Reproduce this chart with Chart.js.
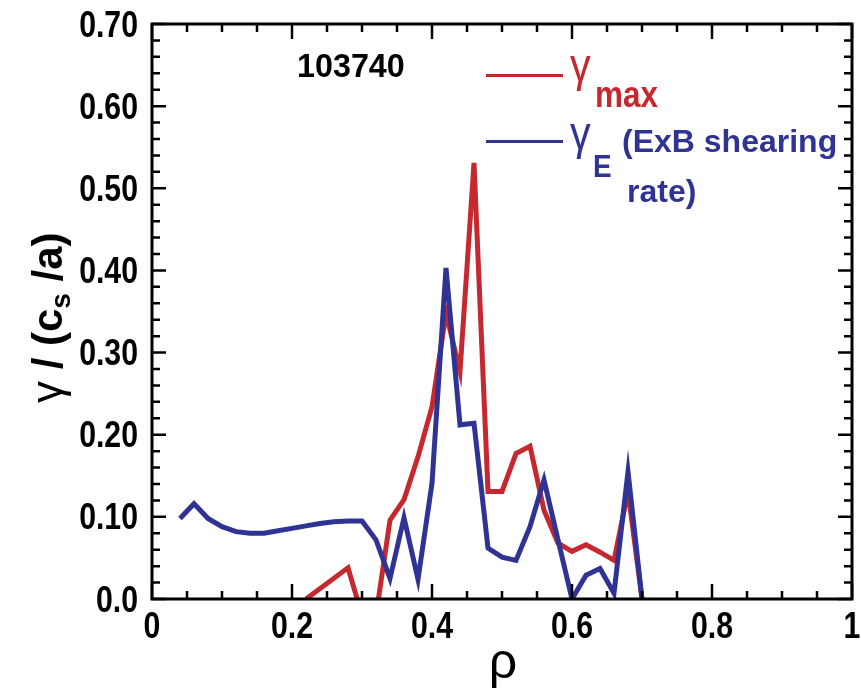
<!DOCTYPE html>
<html>
<head>
<meta charset="utf-8">
<script src="https://cdn.jsdelivr.net/npm/chart.js@4.4.1/dist/chart.umd.min.js"></script>
<style>
  html, body { margin: 0; padding: 0; background: #fff; }
  canvas { display: block; }
</style>
</head>
<body>
<canvas id="growth" width="861" height="691"></canvas>
<script>
// gamma_E (ExB shearing rate) profile
const rhoE = [0.04, 0.06, 0.08, 0.10, 0.12, 0.14, 0.16, 0.18, 0.20, 0.22, 0.24, 0.26, 0.28, 0.30,
  0.32, 0.34, 0.36, 0.38, 0.40, 0.42, 0.44, 0.46, 0.48, 0.50, 0.52, 0.54, 0.56, 0.58, 0.60,
  0.62, 0.64, 0.66, 0.68, 0.70];
const gammaE = [0.098, 0.116, 0.098, 0.088, 0.082, 0.080, 0.080, 0.083, 0.086, 0.089, 0.092, 0.094, 0.095, 0.095,
  0.072, 0.025, 0.099, 0.024, 0.141, 0.403, 0.212, 0.214, 0.062, 0.051, 0.047, 0.088, 0.145, 0.072, 0.0,
  0.029, 0.037, 0.007, 0.155, 0.0];

// gamma_max (max linear growth rate) profile
const rhoMax = [0.22, 0.28, 0.30, 0.32, 0.34, 0.36, 0.38, 0.40, 0.42, 0.44, 0.46, 0.48, 0.50, 0.52,
  0.54, 0.56, 0.58, 0.60, 0.62, 0.64, 0.66, 0.68, 0.70];
const gammaMax = [0.0, 0.038, -0.02, -0.02, 0.096, 0.121, 0.173, 0.234, 0.348, 0.277, 0.531, 0.131, 0.131, 0.177,
  0.186, 0.108, 0.068, 0.058, 0.066, 0.057, 0.047, 0.131, 0.0];

const xTicks = [0, 0.2, 0.4, 0.6, 0.8, 1];
const xTickLabels = ['0', '0.2', '0.4', '0.6', '0.8', '1'];
const yTicks = [0, 0.1, 0.2, 0.3, 0.4, 0.5, 0.6, 0.7];
const yTickLabels = ['0.0', '0.10', '0.20', '0.30', '0.40', '0.50', '0.60', '0.70'];

const RED = '#c6282f';
const BLUE = '#2f3394';
const SANS = '"Liberation Sans", Arial, sans-serif';

function toPoints(xs, ys) {
  return xs.map((x, i) => ({ x: x, y: ys[i] }));
}

// text squeezed horizontally to look like a condensed face
function squeezed(ctx, text, x, y, font, sx, align, color) {
  ctx.save();
  ctx.font = font;
  ctx.fillStyle = color || '#000';
  ctx.textBaseline = 'alphabetic';
  ctx.textAlign = align || 'left';
  ctx.translate(x, y);
  ctx.scale(sx, 1);
  ctx.fillText(text, 0, 0);
  ctx.restore();
}

// frame, inward ticks on all four sides, labels, legend and titles
const framePlugin = {
  id: 'frame',
  afterDatasetsDraw(chart) {
    const { ctx, chartArea: a, scales: { x, y } } = chart;
    ctx.save();
    ctx.strokeStyle = '#000';
    ctx.lineWidth = 3;
    ctx.lineCap = 'butt';
    ctx.strokeRect(a.left, a.top, a.right - a.left, a.bottom - a.top);

    ctx.lineWidth = 2.5;
    ctx.beginPath();
    for (let i = 0; i <= 20; i++) {
      const px = x.getPixelForValue(i * 0.05);
      const len = i % 4 === 0 ? 15 : 8;
      ctx.moveTo(px, a.bottom); ctx.lineTo(px, a.bottom - len);
      ctx.moveTo(px, a.top); ctx.lineTo(px, a.top + len);
    }
    for (let i = 0; i <= 35; i++) {
      const py = y.getPixelForValue(i * 0.02);
      const len = i % 5 === 0 ? 14 : 8;
      ctx.moveTo(a.left, py); ctx.lineTo(a.left + len, py);
      ctx.moveTo(a.right, py); ctx.lineTo(a.right - len, py);
    }
    ctx.stroke();
    ctx.restore();

    const tickFont = 'bold 36px ' + SANS;
    yTicks.forEach((v, i) => {
      squeezed(ctx, yTickLabels[i], a.left - 14, y.getPixelForValue(v) + 12.5, tickFont, 0.84, 'right');
    });
    xTicks.forEach((v, i) => {
      squeezed(ctx, xTickLabels[i], x.getPixelForValue(v), a.bottom + 39, tickFont, 0.84, 'center');
    });

    // shot number
    squeezed(ctx, '103740', 297, 77, 'bold 34px ' + SANS, 0.95, 'left');

    // legend
    ctx.save();
    ctx.lineWidth = 3;
    ctx.strokeStyle = RED;
    ctx.beginPath(); ctx.moveTo(486, 75.5); ctx.lineTo(563, 75.5); ctx.stroke();
    ctx.strokeStyle = BLUE;
    ctx.beginPath(); ctx.moveTo(486, 141.5); ctx.lineTo(563, 141.5); ctx.stroke();
    ctx.restore();
    squeezed(ctx, 'γ', 570, 81, '46px ' + SANS, 0.9, 'left', RED);
    squeezed(ctx, 'max', 595, 107, 'bold 37px ' + SANS, 0.85, 'left', RED);
    squeezed(ctx, 'γ', 570, 149, '46px ' + SANS, 0.9, 'left', BLUE);
    squeezed(ctx, 'E', 593, 177, 'bold 31px ' + SANS, 0.9, 'left', BLUE);
    squeezed(ctx, '(ExB shearing', 622, 152, 'bold 32px ' + SANS, 1.0, 'left', BLUE);
    squeezed(ctx, 'rate)', 627, 202, 'bold 32px ' + SANS, 1.0, 'left', BLUE);

    // x title
    squeezed(ctx, 'ρ', 503, 678, '50px ' + SANS, 1.0, 'center');

    // y title, rotated
    ctx.save();
    ctx.translate(62, 403);
    ctx.rotate(-Math.PI / 2);
    ctx.fillStyle = '#000';
    ctx.textBaseline = 'alphabetic';
    let u = 0;
    ctx.font = '44px ' + SANS;
    ctx.fillText('γ', u, 0);
    u += ctx.measureText('γ').width;
    ctx.font = 'bold 42px ' + SANS;
    ctx.fillText(' / (c', u, 0);
    u += ctx.measureText(' / (c').width;
    ctx.font = 'bold 28px ' + SANS;
    ctx.fillText('s', u, 8);
    u += ctx.measureText('s').width;
    ctx.font = 'bold 42px ' + SANS;
    ctx.fillText(' /a)', u, 0);
    ctx.restore();
  }
};

new Chart(document.getElementById('growth'), {
  type: 'line',
  data: {
    datasets: [
      {
        label: 'γmax',
        data: toPoints(rhoMax, gammaMax),
        borderColor: RED,
        borderWidth: 5,
        borderJoinStyle: 'miter',
        pointRadius: 0,
        tension: 0,
        fill: false,
        order: 1
      },
      {
        label: 'γE (ExB shearing rate)',
        data: toPoints(rhoE, gammaE),
        borderColor: BLUE,
        borderWidth: 5,
        borderJoinStyle: 'miter',
        pointRadius: 0,
        tension: 0,
        fill: false,
        order: 0
      }
    ]
  },
  options: {
    responsive: false,
    animation: false,
    devicePixelRatio: 1,
    layout: { padding: { left: 152, top: 24, right: 9, bottom: 92 } },
    plugins: { legend: { display: false }, tooltip: { enabled: false } },
    scales: {
      x: { type: 'linear', min: 0, max: 1, display: false },
      y: { type: 'linear', min: 0, max: 0.7, display: false }
    }
  },
  plugins: [framePlugin]
});
</script>
</body>
</html>
